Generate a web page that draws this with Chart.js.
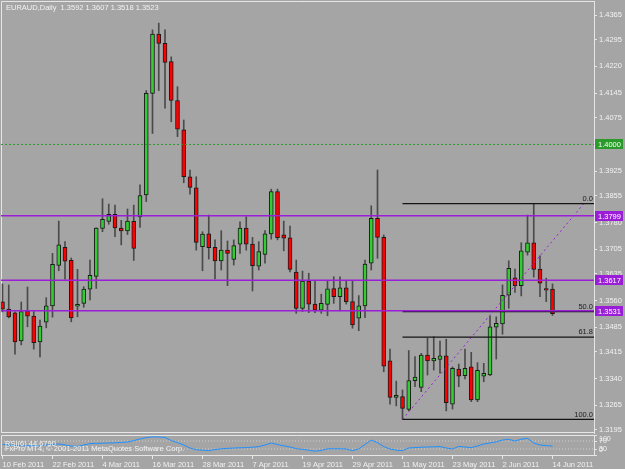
<!DOCTYPE html>
<html lang="en">
<head>
<meta charset="UTF-8" />
<title>EURAUD Daily</title>
<script src="https://cdn.jsdelivr.net/npm/chart.js"></script>
<style>
    body {
        margin: 0;
        background: #a5a5a5;
    }
    #wrap {
        position: relative;
        width: 625px;
        height: 469px;
        background: #a5a5a5;
        overflow: hidden;
    }
    #mainChart { position: absolute; left: 0; top: 0; }
    #rsiChart { position: absolute; left: 0; top: 434px; }
</style>
</head>
<body>

<div id="wrap">
  <canvas id="mainChart" width="625" height="434"></canvas>
  <canvas id="rsiChart" width="625" height="35"></canvas>
</div>

<script>
    const symbol = 'EURAUD,Daily';

    const dates = [
        '10 Feb 2011','11 Feb 2011','14 Feb 2011','15 Feb 2011','16 Feb 2011','17 Feb 2011','18 Feb 2011','21 Feb 2011',
        '22 Feb 2011','23 Feb 2011','24 Feb 2011','25 Feb 2011','28 Feb 2011','1 Mar 2011','2 Mar 2011','3 Mar 2011',
        '4 Mar 2011','7 Mar 2011','8 Mar 2011','9 Mar 2011','10 Mar 2011','11 Mar 2011','14 Mar 2011','15 Mar 2011',
        '16 Mar 2011','17 Mar 2011','18 Mar 2011','21 Mar 2011','22 Mar 2011','23 Mar 2011','24 Mar 2011','25 Mar 2011',
        '28 Mar 2011','29 Mar 2011','30 Mar 2011','31 Mar 2011','1 Apr 2011','4 Apr 2011','5 Apr 2011','6 Apr 2011',
        '7 Apr 2011','8 Apr 2011','11 Apr 2011','12 Apr 2011','13 Apr 2011','14 Apr 2011','15 Apr 2011','18 Apr 2011',
        '19 Apr 2011','20 Apr 2011','21 Apr 2011','22 Apr 2011','25 Apr 2011','26 Apr 2011','27 Apr 2011','28 Apr 2011',
        '29 Apr 2011','2 May 2011','3 May 2011','4 May 2011','5 May 2011','6 May 2011','9 May 2011','10 May 2011',
        '11 May 2011','12 May 2011','13 May 2011','16 May 2011','17 May 2011','18 May 2011','19 May 2011','20 May 2011',
        '23 May 2011','24 May 2011','25 May 2011','26 May 2011','27 May 2011','30 May 2011','31 May 2011','1 Jun 2011',
        '2 Jun 2011','3 Jun 2011','6 Jun 2011','7 Jun 2011','8 Jun 2011','9 Jun 2011','10 Jun 2011','13 Jun 2011',
        '14 Jun 2011'
    ];

    const opens = [
        1.3556,1.3536,1.3525,1.3446,1.3531,1.3516,1.3443,1.3499,
        1.3545,1.3659,1.3710,1.3673,1.3544,1.3552,1.3592,1.3628,
        1.3763,1.3783,1.3803,1.3764,1.3756,1.3783,1.3796,1.3858,
        1.4144,1.4311,1.4285,1.4234,1.4124,1.4041,1.3909,1.3878,
        1.3712,1.3748,1.3710,1.3672,1.3702,1.3676,1.3719,1.3764,
        1.3719,1.3657,1.3690,1.3748,1.3867,1.3745,1.3737,1.3640,
        1.3538,1.3615,1.3550,1.3533,1.3549,1.3594,1.3571,1.3596,
        1.3557,1.3510,1.3545,1.3665,1.3792,1.3738,1.3390,1.3287,
        1.3289,1.3253,1.3334,1.3315,1.3406,1.3390,1.3394,1.3404,
        1.3268,1.3367,1.3348,1.3373,1.3280,1.3347,1.3350,1.3485,
        1.3494,1.3575,1.3624,1.3602,1.3696,1.3723,1.3649,1.3594,
        1.3592
    ];
    const highs = [
        1.3607,1.3604,1.3528,1.3556,1.3598,1.3529,1.3505,1.3568,
        1.3693,1.3784,1.3726,1.3680,1.3648,1.3599,1.3674,1.3765,
        1.3847,1.3832,1.3829,1.3786,1.3818,1.3829,1.3886,1.4152,
        1.4323,1.4342,1.4323,1.4247,1.4163,1.4069,1.3928,1.3909,
        1.3754,1.3801,1.3731,1.3757,1.3728,1.3731,1.3782,1.3796,
        1.3738,1.3726,1.3757,1.3874,1.3874,1.3784,1.3770,1.3674,
        1.3643,1.3637,1.3616,1.3578,1.3616,1.3627,1.3627,1.3616,
        1.3616,1.3574,1.3674,1.3827,1.3928,1.3745,1.3423,1.3333,
        1.3308,1.3419,1.3402,1.3411,1.3454,1.3458,1.3446,1.3451,
        1.3373,1.3381,1.3423,1.3414,1.3385,1.3383,1.3516,1.3514,
        1.3604,1.3672,1.3649,1.3723,1.3801,1.3833,1.3686,1.3623,
        1.3607
    ];
    const lows = [
        1.3528,1.3511,1.3409,1.3435,1.3486,1.3423,1.3401,1.3483,
        1.3513,1.3644,1.3620,1.3500,1.3514,1.3541,1.3562,1.3594,
        1.3754,1.3775,1.3740,1.3717,1.3746,1.3673,1.3766,1.3839,
        1.4031,1.4152,1.4102,1.4064,1.4022,1.3892,1.3860,1.3702,
        1.3644,1.3677,1.3621,1.3646,1.3602,1.3660,1.3693,1.3702,
        1.3587,1.3646,1.3665,1.3733,1.3731,1.3700,1.3641,1.3524,
        1.3529,1.3526,1.3526,1.3524,1.3517,1.3552,1.3531,1.3550,
        1.3482,1.3475,1.3512,1.3646,1.3679,1.3359,1.3268,1.3263,
        1.3225,1.3249,1.3317,1.3303,1.3350,1.3364,1.3355,1.3249,
        1.3254,1.3317,1.3339,1.3275,1.3275,1.3331,1.3348,1.3395,
        1.3465,1.3538,1.3583,1.3573,1.3688,1.3626,1.3571,1.3557,
        1.3518
    ];
    const closes = [
        1.3536,1.3514,1.3443,1.3529,1.3516,1.3441,1.3488,1.3545,
        1.3662,1.3717,1.3671,1.3511,1.3549,1.3592,1.3631,1.3764,
        1.3789,1.3803,1.3765,1.3756,1.3784,1.3707,1.3856,1.4144,
        1.4311,1.4285,1.4231,1.4124,1.4043,1.3909,1.3879,1.3724,
        1.3747,1.3709,1.3672,1.3702,1.3693,1.3715,1.3764,1.3719,
        1.3658,1.3698,1.3748,1.3867,1.3737,1.3736,1.3648,1.3538,
        1.3615,1.3550,1.3533,1.3552,1.3593,1.3571,1.3596,1.3557,
        1.3491,1.3545,1.3663,1.3792,1.3738,1.3375,1.3287,1.3293,
        1.3256,1.3334,1.3344,1.3406,1.3390,1.3397,1.3404,1.3272,
        1.3369,1.3347,1.3369,1.3280,1.3363,1.3355,1.3486,1.3496,
        1.3575,1.3651,1.3602,1.3700,1.3723,1.3648,1.3609,1.3589,
        1.3523
    ];

    // RSI(6)
    const rsiValues = [
        53,50,48,47,46,45,47,50,
        53,55,50,45,43,50,57,58,
        59,60,61,63,65,72,80,87,
        91,90,88,72,62,50,35,26,
        24,22,27,31,33,35,36,37,
        39,42,50,60,52,46,40,32,
        28,24,19,23,31,31,31,30,
        22,30,53,74,62,42,30,24,
        22,35,37,39,40,41,42,35,
        30,43,40,37,45,55,60,66,
        75,78,70,79,83,60,50,47,
        44.679
    ];

    const priceTicks = [1.4365, 1.4295, 1.4220, 1.4145, 1.4075, 1.3925, 1.3855, 1.3780,
                        1.3705, 1.3635, 1.3560, 1.3485, 1.3415, 1.3340, 1.3265, 1.3195];
    const dateTickIdx = [0, 8, 16, 24, 32, 40, 48, 56, 64, 72, 80, 88];
    const rsiTicks = [100, 70, 30, 0];
    const rsiLevels = [70, 30];

    const hLevels = [1.3799, 1.3617, 1.3531];   // purple horizontal lines
    const roundLevel = 1.4000;                   // green dotted line
    const fibNames = ['0.0', '50.0', '61.8', '100.0'];
    const fibLevels = [1.3833, 1.3529, 1.3457, 1.3225];
    const fibStartIdx = 64;
    const fibEndIdx = 93;

    // view window, matches the MT4 screen scroll
    const xMin = -0.24, xMax = 94.64;
    const yMin = 1.318654, yMax = 1.440447;

    const fontFamily = '"Liberation Sans", Arial, sans-serif';
    const textColor = '#f2f2f2';
    const frameColor = '#e6e6e6';
    const bullColor = '#33cc33';
    const bearColor = '#ff0000';
    const purple = '#9a1ed8';
    const roundColor = '#2a9a2a';

    const idx = dates.map((d, i) => i);

    function flatLine(v, from, color, width, dash) {
        return {
            type: 'line',
            data: [{ x: from, y: v }, { x: xMax, y: v }],
            borderColor: color,
            borderWidth: width,
            borderDash: dash || [],
            pointRadius: 0,
            order: 0
        };
    }

    const mainOverlay = {
        id: 'mainOverlay',
        beforeDatasetsDraw(chart) {
            const { ctx, chartArea: a } = chart;
            ctx.save();
            ctx.strokeStyle = frameColor;
            ctx.lineWidth = 1;
            ctx.beginPath();
            ctx.moveTo(a.left + 0.5, a.bottom);
            ctx.lineTo(a.left + 0.5, a.top + 0.5);
            ctx.lineTo(a.right, a.top + 0.5);
            ctx.moveTo(a.left, a.bottom - 0.5);
            ctx.lineTo(a.right, a.bottom - 0.5);
            ctx.stroke();
            ctx.restore();
        },
        afterDraw(chart) {
            const { ctx, chartArea: a, scales: { y } } = chart;
            const last = closes.length - 1;
            ctx.save();
            ctx.font = '7.5px ' + fontFamily;

            // header line
            ctx.fillStyle = textColor;
            ctx.textAlign = 'left';
            ctx.textBaseline = 'middle';
            const ohlc = [opens[last], highs[last], lows[last], closes[last]].map(v => v.toFixed(4)).join(' ');
            ctx.fillText(symbol + '  ' + ohlc, a.left + 5, a.top + 7);

            // fibo level names
            ctx.fillStyle = '#1c1c1c';
            ctx.textAlign = 'right';
            ctx.textBaseline = 'bottom';
            fibLevels.forEach((p, k) => {
                ctx.fillText(fibNames[k], a.right - 1, y.getPixelForValue(p) - 1);
            });

            // price tags on the axis
            const tags = [{ v: roundLevel, c: roundColor }].concat(hLevels.map(v => ({ v: v, c: purple })));
            tags.forEach(t => {
                const py = Math.round(y.getPixelForValue(t.v));
                ctx.fillStyle = t.c;
                ctx.fillRect(a.right + 1, py - 5, 28, 10);
                ctx.fillStyle = '#ffffff';
                ctx.textAlign = 'left';
                ctx.textBaseline = 'middle';
                ctx.fillText(t.v.toFixed(4), a.right + 4, py + 0.5);
            });
            ctx.restore();
        }
    };

    new Chart(document.getElementById('mainChart'), {
        type: 'bar',
        data: {
            datasets: [
                {
                    label: 'wick',
                    data: idx.map(i => ({ x: i, y: [lows[i], highs[i]] })),
                    backgroundColor: '#4a4a4a',
                    barThickness: 1,
                    grouped: false,
                    order: 3
                },
                {
                    label: 'body',
                    data: idx.map(i => ({ x: i, y: [opens[i], closes[i]] })),
                    backgroundColor: idx.map(i => closes[i] >= opens[i] ? bullColor : bearColor),
                    borderColor: '#1a1a1a',
                    borderWidth: 1,
                    borderSkipped: false,
                    barThickness: 4,
                    grouped: false,
                    order: 2
                },
                flatLine(roundLevel, xMin, roundColor, 1, [2, 2]),
                ...hLevels.map(v => flatLine(v, xMin, purple, 1.6)),
                ...fibLevels.map(v => flatLine(v, fibStartIdx, '#141414', 1.3)),
                {
                    type: 'line',
                    data: [{ x: fibStartIdx, y: fibLevels[3] }, { x: fibEndIdx, y: fibLevels[0] }],
                    borderColor: purple,
                    borderWidth: 1,
                    borderDash: [2, 3],
                    pointRadius: 0,
                    order: 1
                }
            ]
        },
        options: {
            responsive: false,
            animation: false,
            devicePixelRatio: 1,
            layout: { padding: { left: 1, top: 1, right: 0, bottom: 1 } },
            plugins: { legend: { display: false }, tooltip: { enabled: false } },
            scales: {
                x: { type: 'linear', min: xMin, max: xMax, offset: false, display: false },
                y: {
                    position: 'right',
                    min: yMin,
                    max: yMax,
                    afterBuildTicks: s => { s.ticks = priceTicks.map(v => ({ value: v })); },
                    afterFit: s => { s.width = 31; s.paddingTop = 0; s.paddingBottom = 0; },
                    ticks: {
                        color: textColor,
                        font: { family: fontFamily, size: 7.5 },
                        padding: 2,
                        autoSkip: false,
                        callback: v => v.toFixed(4)
                    },
                    grid: { drawOnChartArea: false, tickLength: 3, color: frameColor },
                    border: { color: frameColor, width: 1 }
                }
            }
        },
        plugins: [mainOverlay]
    });

    const rsiOverlay = {
        id: 'rsiOverlay',
        beforeDatasetsDraw(chart) {
            const { ctx, chartArea: a } = chart;
            ctx.save();
            ctx.strokeStyle = frameColor;
            ctx.lineWidth = 1;
            ctx.beginPath();
            ctx.moveTo(a.left + 0.5, a.bottom);
            ctx.lineTo(a.left + 0.5, a.top + 0.5);
            ctx.lineTo(a.right, a.top + 0.5);
            ctx.stroke();
            ctx.restore();
        },
        afterDraw(chart) {
            const { ctx, chartArea: a, scales: { y } } = chart;
            ctx.save();
            ctx.font = '7.5px ' + fontFamily;
            ctx.fillStyle = textColor;
            ctx.textAlign = 'left';
            ctx.textBaseline = 'middle';
            ctx.fillText('RSI(6) ' + rsiValues[rsiValues.length - 1].toFixed(4), a.left + 4, 9.5);
            ctx.fillText('FxPro MT4, \u00a9 2001-2011 MetaQuotes Software Corp.', a.left + 4, 14.5);

            ctx.font = '7px ' + fontFamily;
            rsiTicks.forEach(v => {
                let py = y.getPixelForValue(v);
                if (v === 100) { ctx.textBaseline = 'top'; py += 1; }
                else if (v === 0) { ctx.textBaseline = 'bottom'; py -= 1; }
                else { ctx.textBaseline = 'middle'; }
                ctx.fillText(String(v), a.right + 5, py);
            });
            ctx.restore();
        }
    };

    new Chart(document.getElementById('rsiChart'), {
        type: 'line',
        data: {
            datasets: [
                {
                    label: 'RSI(6)',
                    data: idx.map(i => ({ x: i, y: rsiValues[i] })),
                    borderColor: '#1e90ff',
                    borderWidth: 1,
                    pointRadius: 0,
                    tension: 0,
                    order: 0
                },
                ...rsiLevels.map(v => ({
                    data: [{ x: xMin, y: v }, { x: xMax, y: v }],
                    borderColor: '#cfcfcf',
                    borderWidth: 1,
                    borderDash: [1, 2],
                    pointRadius: 0,
                    order: 1
                }))
            ]
        },
        options: {
            responsive: false,
            animation: false,
            devicePixelRatio: 1,
            layout: { padding: { left: 1, top: 1, right: 0, bottom: 0 } },
            plugins: { legend: { display: false }, tooltip: { enabled: false } },
            scales: {
                x: {
                    type: 'linear',
                    min: xMin,
                    max: xMax,
                    offset: false,
                    afterBuildTicks: s => { s.ticks = dateTickIdx.map(v => ({ value: v })); },
                    afterFit: s => { s.height = 14; s.paddingLeft = 0; s.paddingRight = 0; },
                    ticks: {
                        color: textColor,
                        font: { family: fontFamily, size: 7.5 },
                        align: 'start',
                        padding: 1,
                        maxRotation: 0,
                        autoSkip: false,
                        callback: v => dates[v]
                    },
                    grid: { drawOnChartArea: false, tickLength: 4, color: frameColor },
                    border: { color: frameColor, width: 1 }
                },
                y: {
                    position: 'right',
                    min: 0,
                    max: 100,
                    afterBuildTicks: s => { s.ticks = rsiTicks.map(v => ({ value: v })); },
                    afterFit: s => { s.width = 31; s.paddingTop = 0; s.paddingBottom = 0; },
                    ticks: { display: false },
                    grid: { drawOnChartArea: false, tickLength: 3, color: frameColor },
                    border: { color: frameColor, width: 1 }
                }
            }
        },
        plugins: [rsiOverlay]
    });
</script>

</body>
</html>
